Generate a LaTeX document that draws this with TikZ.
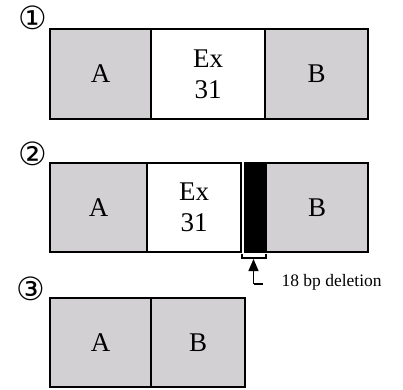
\documentclass[tikz,border=0pt]{standalone}
\usepackage{fontspec}
\setmainfont{Liberation Serif}
\newfontfamily\circfont{DejaVu Sans}
\usepackage{xcolor}
\usepackage{tikz}
\usetikzlibrary{arrows.meta,positioning,calc}
\definecolor{flankgray}{RGB}{210,208,210}

\begin{document}
\begin{tikzpicture}[x=1pt, y=-1pt, font=\fontsize{27}{31}\selectfont, blk/.style={draw, line width=1.6pt, outer sep=0pt, inner sep=0pt, align=center, minimum height=90pt}, side/.style={blk, fill=flankgray}, exon/.style={blk, fill=white}, num/.style={font=\circfont\fontsize{32}{32}\selectfont, inner sep=0pt}, arr/.style={-{Triangle[length=12pt,width=10pt]}, line width=1.4pt}]
\useasboundingbox (0,0) rectangle (403,389);
% wild type
\node[num] (n1) at (33,18) {①};
\node[side, minimum width=101pt, anchor=north west] (a1) at (50,29) {A};
\node[exon, minimum width=114pt, right=0pt of a1] (ex1) {Ex\\31};
\node[side, minimum width=103pt, right=0pt of ex1] (b1) {B};
% with deletion
\node[num] (n2) at (33,154) {②};
\node[side, minimum width=97pt, minimum height=89pt, anchor=north west] (a2) at (50,163) {A};
\node[exon, minimum width=94pt, minimum height=89pt, right=0pt of a2] (ex2) {Ex\\31};
\node[blk, fill=black, minimum width=21pt, minimum height=89pt, right=4pt of ex2] (del2) {};
\node[side, minimum width=102pt, minimum height=89pt, right=0pt of del2] (b2) {B};
\draw[line width=1.2pt] ($(ex2.south east)+(1,2)$) -- ++(0,4) -| ($(del2.south east)+(0,2)$);
\coordinate (brk) at ($(ex2.south east)!0.5!(del2.south east)+(0,7)$);
\coordinate (elbow) at ($(brk)+(0,25)$);
\draw[arr] (elbow) -- (brk);
\draw[line width=1.4pt] (elbow) -- ++(9,0);
\node[anchor=base west, font=\fontsize{17.5}{17.5}\selectfont] (dl) at (278,286) {18 bp deletion};
% exon skipped
\node[num] (n3) at (31,289) {③};
\node[side, minimum width=101pt, minimum height=89pt, anchor=north west] (a3) at (50,298) {A};
\node[side, minimum width=94pt, minimum height=89pt, right=0pt of a3] (b3) {B};
\end{tikzpicture}
\end{document}
